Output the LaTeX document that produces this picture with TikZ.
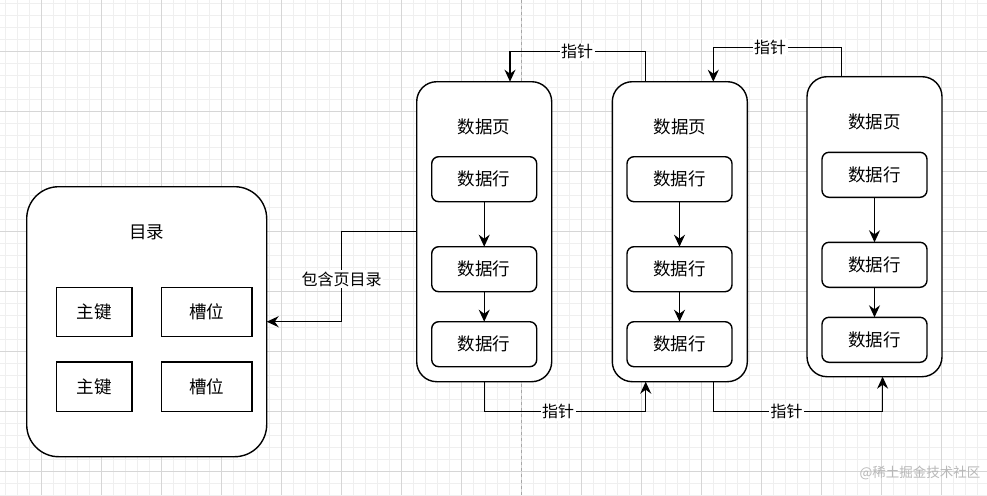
\documentclass[tikz,border=0pt]{standalone}
\usepackage{fontspec}
\setmainfont{Noto Sans CJK SC}
\usetikzlibrary{arrows.meta}
\definecolor{gminor}{HTML}{EFEFEF}
\definecolor{gmajor}{HTML}{D6D6D6}
\definecolor{wm}{HTML}{B8B8B8}
\begin{document}
\begin{tikzpicture}[x=1pt,y=-1pt,
  every node/.style={inner sep=0pt,outer sep=0pt},
  txt/.style={font=\fontsize{17.5}{20}\selectfont},
  lbl/.style={font=\fontsize{16}{18}\selectfont,fill=white,inner sep=1.5pt},
  dirbox/.style={draw,line width=1.4pt,fill=white,rounded corners=32pt,minimum width=240pt,minimum height=270pt},
  pagebox/.style={draw,line width=1.4pt,fill=white,rounded corners=20pt,minimum width=135pt,minimum height=300pt},
  rowbox/.style={draw,line width=1.4pt,fill=white,rounded corners=7pt,minimum width=105pt,minimum height=45pt,txt},
  cellbox/.style={draw,line width=1.4pt,fill=white,minimum height=49.5pt,txt},
  arr/.style={line width=1.4pt,-{Stealth[length=12pt,width=11pt,inset=4pt]}}
]
\useasboundingbox (0,0) rectangle (987,495);
\fill[white] (0,0) rectangle (987,495);
% grid
\foreach \i in {0,...,82} {\draw[gminor,line width=0.8pt] (5.7+12*\i,0) -- (5.7+12*\i,495);}
\foreach \i in {0,...,41} {\draw[gminor,line width=0.8pt] (0,3.7+12*\i) -- (987,3.7+12*\i);}
\foreach \i in {0,...,16} {\draw[gmajor,line width=0.8pt] (41.7+60*\i,0) -- (41.7+60*\i,495);}
\foreach \i in {0,...,7} {\draw[gmajor,line width=0.8pt] (0,51.7+60*\i) -- (987,51.7+60*\i);}
\draw[gray!70,dashed,line width=0.8pt] (521.7,0) -- (521.7,495);

% directory
\node[dirbox] (dir) at (146.7,321.7) {};
\node[txt] (dirt) at (146.7,232) {目录};
\node[cellbox,minimum width=75.3pt] (k1) at (94.3,312) {主键};
\node[cellbox,minimum width=90.3pt] (s1) at (206.8,312) {槽位};
\node[cellbox,minimum width=75.3pt] (k2) at (94.3,386.8) {主键};
\node[cellbox,minimum width=90.3pt] (s2) at (206.8,386.8) {槽位};

% pages
\node[pagebox] (p1) at (484.2,231.7) {};
\node[txt] (p1t) at (484.2,127) {数据页};
\node[rowbox] (r11) at (484.2,179.2) {数据行};
\node[rowbox] (r12) at (484.2,269.2) {数据行};
\node[rowbox] (r13) at (484.2,344.2) {数据行};

\node[pagebox] (p2) at (679.8,231.7) {};
\node[txt] (p2t) at (679.8,127) {数据页};
\node[rowbox] (r21) at (679.5,179.2) {数据行};
\node[rowbox] (r22) at (679.5,269.2) {数据行};
\node[rowbox] (r23) at (679.5,344.2) {数据行};

\node[pagebox] (p3) at (874.5,226.7) {};
\node[txt] (p3t) at (874.5,122) {数据页};
\node[rowbox] (r31) at (874.5,174.8) {数据行};
\node[rowbox] (r32) at (874.5,264.8) {数据行};
\node[rowbox] (r33) at (874.5,339.8) {数据行};

% row arrows
\foreach \a/\b in {r11/r12,r12/r13,r21/r22,r22/r23,r31/r32,r32/r33}
  \draw[arr] (\a.south) -- (\b.north);

% pointers
\draw[arr] ([xshift=33.4pt]p2.north west) |- (577,51.7) node[lbl] (l1) {指针} -| ([xshift=93.3pt]p1.north west);
\draw[arr] ([xshift=34.3pt]p3.north west) |- (770,47.3) node[lbl] (l2) {指针} -| ([xshift=101pt]p2.north west);
\draw[arr] (p1.south) |- (558,411.7) node[lbl] (l3) {指针} -| ([xshift=33.4pt]p2.south west);
\draw[arr] ([xshift=101pt]p2.south west) |- (786.7,411.7) node[lbl] (l4) {指针} -| ([xshift=75.6pt]p3.south west);
\draw[arr] (p1.west) -| (341.7,279.3) node[lbl] (l5) {包含页目录} |- (dir.east);

\node[text=wm,font=\fontsize{13.5}{15}\selectfont] (wmk) at (920,472.5) {@稀土掘金技术社区};
\end{tikzpicture}
\end{document}
